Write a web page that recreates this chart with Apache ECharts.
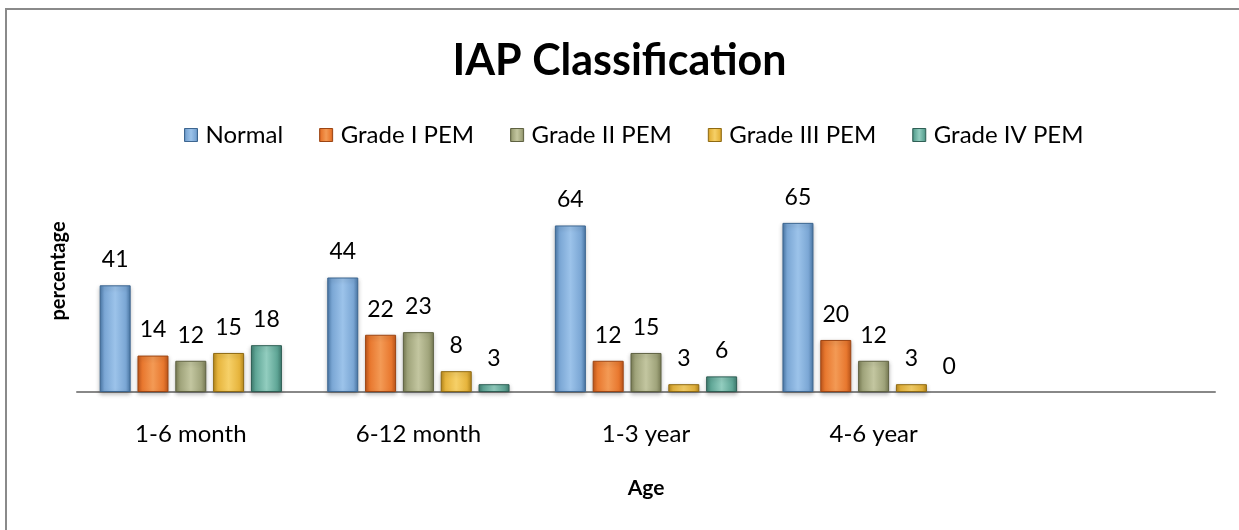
<!DOCTYPE html>
<html>
<head>
<meta charset="utf-8">
<script src="https://cdn.jsdelivr.net/npm/echarts@6/dist/echarts.min.js"></script>
<style>
html,body{margin:0;padding:0;background:#fff;}
#c{width:1239px;height:530px;}
</style>
</head>
<body>
<div id="c"></div>
<script>
const categories = ['1-6 month', '6-12 month', '1-3 year', '4-6 year', ''];
const seriesNames = ['Normal', 'Grade I PEM', 'Grade II PEM', 'Grade III PEM', 'Grade IV PEM'];
const normal = [41, 44, 64, 65, null];
const grade1 = [14, 22, 12, 20, null];
const grade2 = [12, 23, 15, 12, null];
const grade3 = [15, 8, 3, 3, null];
const grade4 = [18, 3, 6, 0, null];

const FONT = 'Lato, "Open Sans", sans-serif';
const palettes = [
  {edge: '#4a78a8', mid: '#9cc3ea', base: '#7aa6d4', border: '#3d6690'},
  {edge: '#c0561a', mid: '#f39a55', base: '#e8772e', border: '#9c4513'},
  {edge: '#7a7d55', mid: '#c3c6a0', base: '#9fa37a', border: '#5f6242'},
  {edge: '#b98a1c', mid: '#f6d068', base: '#e6b43c', border: '#8f6a12'},
  {edge: '#3f7d70', mid: '#92cdbf', base: '#5fa696', border: '#2f5f55'}
];
function grad(p) {
  return new echarts.graphic.LinearGradient(0, 0, 1, 0, [
    {offset: 0, color: p.edge},
    {offset: 0.15, color: p.base},
    {offset: 0.5, color: p.mid},
    {offset: 0.85, color: p.base},
    {offset: 1, color: p.edge}
  ]);
}
const dataSets = [normal, grade1, grade2, grade3, grade4];
const series = dataSets.map((d, i) => ({
  name: seriesNames[i],
  type: 'bar',
  data: d.map(v => (v === 0 ? {value: v, itemStyle: {borderWidth: 0, opacity: 0}} : v)),
  barWidth: 31,
  barGap: '22%',
  itemStyle: {
    color: grad(palettes[i]), borderColor: palettes[i].border, borderWidth: 1,
    shadowColor: 'rgba(0,0,0,0.25)', shadowBlur: 4, shadowOffsetY: 2
  },
  label: {show: true, position: 'top', distance: 14, color: '#000', fontFamily: FONT, fontSize: 23, opacity: 1},
  emphasis: {disabled: true}
}));

const chart = echarts.init(document.getElementById('c'));
chart.setOption({
  animation: false,
  backgroundColor: '#fff',
  title: {
    text: 'IAP Classification', left: 'center', top: 35,
    textStyle: {fontFamily: FONT, fontSize: 43, fontWeight: 'bold', color: '#000'}
  },
  legend: {
    top: 118, left: 179, itemWidth: 13, itemHeight: 13, itemGap: 36,
    textStyle: {fontFamily: FONT, fontSize: 24, color: '#000', padding: [0, 0, 0, 3]},
    data: seriesNames.map((n, i) => ({name: n, icon: 'rect', itemStyle: {color: grad(palettes[i]), borderColor: palettes[i].border, borderWidth: 1}}))
  },
  grid: {left: 77, right: 24, top: 150, bottom: 138, containLabel: false},
  xAxis: {
    type: 'category', data: categories,
    name: 'Age', nameLocation: 'middle', nameGap: 86,
    nameTextStyle: {fontFamily: FONT, fontSize: 21, fontWeight: 'bold', color: '#000'},
    axisLine: {lineStyle: {color: '#888', width: 2}},
    axisTick: {show: false},
    axisLabel: {fontFamily: FONT, fontSize: 24, color: '#000', margin: 30}
  },
  yAxis: {
    type: 'value', min: 0, max: 93, interval: 31,
    name: 'percentage', nameLocation: 'middle', nameGap: 8,
    nameTextStyle: {fontFamily: FONT, fontSize: 20, fontWeight: 'bold', color: '#000'},
    axisLine: {show: false}, axisTick: {show: false}, axisLabel: {show: false},
    splitLine: {show: false}
  },
  graphic: [{
    type: 'rect', shape: {x: 6, y: 9, width: 1400, height: 700},
    style: {fill: 'none', stroke: '#8a8a8a', lineWidth: 2}, silent: true, z: -1
  }],
  series: series
});
</script>
</body>
</html>
